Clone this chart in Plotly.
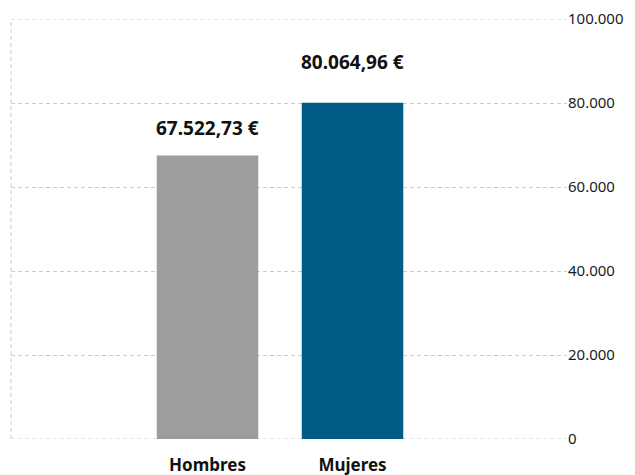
import plotly.graph_objects as go

categories = ["Hombres", "Mujeres"]
values = [67522.73, 80064.96]
value_labels = ["67.522,73 €", "80.064,96 €"]
bar_colors = ["#9d9d9b", "#005c86"]
y_tickvals = [0, 20000, 40000, 60000, 80000, 100000]
y_ticktext = ["0", "20.000", "40.000", "60.000", "80.000", "100.000"]

label_shift = [27, 41]
grid_dash = "4px,3px"
grid_color = "#cccccc"

fig = go.Figure()
fig.add_trace(go.Bar(
    x=categories, y=values, marker_color=bar_colors, width=0.7,
    marker_line_width=0, hoverinfo="skip", showlegend=False,
))
for c, v, t, s in zip(categories, values, value_labels, label_shift):
    fig.add_annotation(x=c, y=v, text=f"<b>{t}</b>", showarrow=False,
                       yshift=s, font=dict(family="Noto Sans", size=19, color="#111"))

fig.add_shape(type="line", xref="paper", yref="paper", x0=0, x1=0, y0=0, y1=1,
              line=dict(color=grid_color, width=1, dash=grid_dash), layer="below")
for yv in (y_tickvals[0], y_tickvals[-1]):
    fig.add_shape(type="line", xref="paper", yref="y", x0=0, x1=1, y0=yv, y1=yv,
                  line=dict(color=grid_color, width=1, dash=grid_dash), layer="below")

fig.update_layout(
    width=635, height=475,
    margin=dict(l=3, r=76, t=11, b=44),
    plot_bgcolor="white", paper_bgcolor="white",
    xaxis=dict(range=[-1.355, 2.479], showgrid=False, zeroline=False, showline=False,
               automargin=False,
               tickfont=dict(family="Noto Sans", size=17, color="#111"),
               tickvals=categories, ticktext=[f"<b>{c}</b>" for c in categories],
               ticks="outside", ticklen=11, tickcolor="rgba(0,0,0,0)"),
    yaxis=dict(range=[0, 100000], side="right", tickvals=y_tickvals, ticktext=y_ticktext,
               showgrid=True, gridcolor=grid_color, griddash=grid_dash, gridwidth=1,
               zeroline=False, showline=False, ticks="", automargin=False,
               tickfont=dict(family="Noto Sans", size=15, color="#1a1a1a")),
)
fig.write_html("out.html")
